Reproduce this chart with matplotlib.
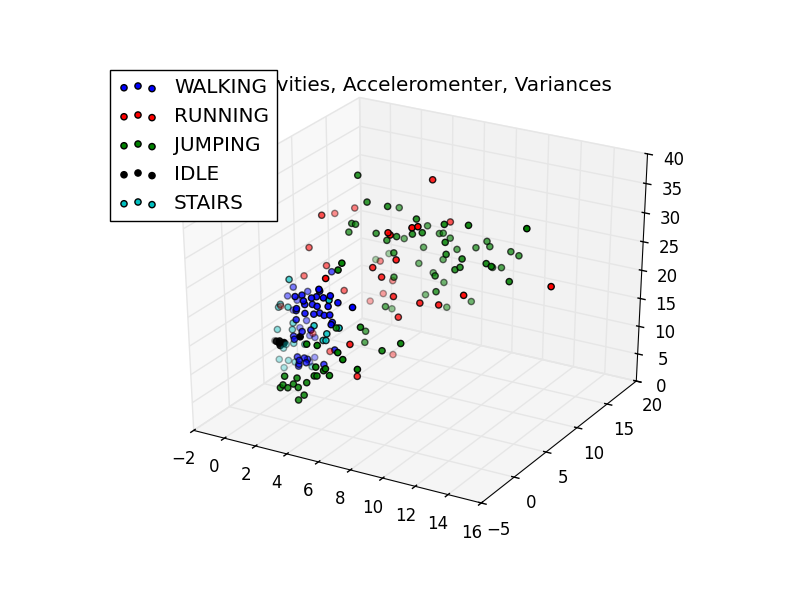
import matplotlib
matplotlib.use('Agg')
import matplotlib.pyplot as plt
from mpl_toolkits.mplot3d import Axes3D  # noqa

plt.style.use('classic')

# variances of the three accelerometer axes, per activity
walk_x = [3.98, 4.16, 2.47, 2.77, 3.13, 3.55, 3.73, 4.34, 4.64, 2.77, 3.07, 3.37, 3.98, 4.58,
          5.06, 6.14, 2.47, 3.25, 3.67, 3.86, 4.28, 4.76, 2.41, 4.82, 2.95, 3.37, 2.17, 4.88,
          2.35, 4.94, 2.47, 2.77, 3.07, 2.65, 4.28, 2.95, 2.53, 3.25,
          2.53, 0.22, 1.01, -0.21, 0.22, 0.09, 1.07, 0.40, 1.50, 1.07, 1.07, 1.50]
walk_y = [0.2, -0.3, 0.1, 0.4, -0.2, 0.0, 0.3, -0.1, 0.2, -0.4, 0.1, 0.5, -0.2, 0.0,
          0.3, -0.1, 0.2, -0.3, 0.0, 0.4, 0.1, -0.2, 0.3, 0.0, -0.1, 0.2, 0.4, -0.3,
          0.1, 0.0, 0.2, -0.2, 0.3, 0.0, -0.1, 0.1, 0.2, -0.3,
          5.2, 4.8, 5.1, 4.9, 5.3, 5.0, 4.7, 5.2, 4.9, 5.1, 5.0, 4.8]
walk_z = [24.2, 25.0, 22.4, 22.6, 22.3, 22.9, 23.0, 23.5, 23.8, 20.9, 21.4, 21.3, 21.9, 22.1,
          22.8, 23.0, 19.9, 20.3, 20.2, 20.2, 20.3, 20.9, 18.2, 19.5, 16.8, 17.1, 15.1, 19.4,
          14.9, 14.8, 11.8, 11.7, 11.7, 10.8, 11.9, 12.0, 10.2, 11.7,
          22.8, 19.0, 18.5, 17.1, 16.3, 14.7, 13.7, 11.6, 10.8, 10.7, 6.0, 7.3]

run_x = [6.84, 0.86, -0.44, 0.94, 0.08, 7.65, 8.01, 6.93, 6.18, 6.31, 2.47, 6.67, 5.21, 5.76,
         3.27, 2.65, 6.49, 8.13, 9.29, 10.81, 15.08, 1.79, 6.79, 5.90, 4.32, 6.33, 2.41, 2.29,
         1.18, -0.29, -1.88, 4.46, 0.20]
run_y = [10.0, 12.5, 12.5, 7.5, 7.5, 5.0, 5.0, 12.5, 5.0, 5.0, 12.5, 5.0, 5.0, 5.0,
         12.5, 12.5, 5.0, 5.0, 5.0, 5.0, 7.5, 12.5, 5.0, 0.0, 10.0, 0.0, 5.0, 7.5,
         7.5, 7.5, 7.5, 0.0, 7.5]
run_z = [37.5, 27.5, 25.8, 29.9, 23.8, 33.5, 33.9, 28.6, 31.8, 31.5, 19.1, 27.5, 25.3, 24.0,
         16.1, 13.4, 21.1, 21.0, 21.4, 24.0, 26.2, 11.5, 17.7, 16.4, 5.4, 11.1, 8.8, 17.6,
         21.3, 18.6, 12.2, 26.8, 8.6]

jump_x = [3.43, 3.26, 3.73, 4.09, 4.39, 4.75, 4.39, 3.55, 4.33, 4.93, 5.41, 5.58, 6.36, 5.52,
          6.12, 6.00, 7.20, 6.90, 8.09, 5.64, 4.99,
          5.06, 6.57, 9.04, 7.89, 5.48, 5.24, 4.72, 4.66,
          3.26, 3.82, 5.10, 2.84, 3.08, 2.65, 4.37, 5.04, 5.65, 6.88, 7.24, 6.63, 8.59, 10.06,
          8.65, 13.55, 11.16, 11.47, 12.57, 5.47, 8.71, 9.69, 9.26, 9.57, 8.04, 5.47, 8.10, 4.92,
          3.71, 4.02, 5.50, 6.25, 6.49, 6.93, 7.36, 8.54, 9.22, 9.40, 10.70, 11.20, 9.59, 10.14,
          5.25, 4.95, 6.49, 5.87, 6.55, 5.38, 6.74, 8.29, 3.21, 1.44, 0.57]
jump_y = [-4.0, -4.0, -4.0, -4.0, -4.0, -4.0, -4.0, -4.0, -4.0, -4.0, -4.0, -4.0, -4.0, -4.0,
          -4.0, -4.0, -4.0, -4.0, -4.0, -4.0, -4.0,
          0.0, 0.0, 0.0, 0.0, 0.0, 0.0, 5.0, 5.0,
          7.5, 7.5, 7.5, 7.5, 7.5, 7.5, 7.5, 7.5, 7.5, 7.5, 7.5, 7.5, 7.5, 7.5,
          7.5, 7.5, 7.5, 7.5, 7.5, 7.5, 7.5, 7.5, 7.5, 7.5, 7.5, 7.5, 7.5, 7.5,
          12.5, 12.5, 12.5, 12.5, 12.5, 12.5, 12.5, 12.5, 12.5, 12.5, 12.5, 12.5, 12.5, 12.5,
          12.5, 12.5, 12.5, 12.5, 12.5, 12.5, 12.5, 12.5, 12.5, 16.25, 16.25]
jump_z = [11.0, 10.4, 10.7, 11.6, 11.2, 10.1, 9.0, 12.6, 12.8, 12.4, 13.9, 14.0, 14.6, 15.5,
          15.6, 15.2, 17.9, 18.9, 16.8, 19.3, 19.1,
          18.7, 19.8, 18.6, 16.6, 30.0, 28.7, 13.9, 11.9,
          38.0, 33.8, 33.8, 29.6, 29.6, 28.0, 28.8, 28.0, 29.0, 32.7, 30.6, 30.0, 32.8, 33.5,
          29.8, 35.0, 27.7, 27.4, 25.5, 26.1, 27.8, 27.6, 25.5, 26.1, 23.7, 21.9, 21.0, 16.4,
          29.2, 24.0, 27.1, 26.2, 26.4, 25.8, 24.1, 25.1, 26.6, 25.8, 25.7, 25.3, 22.3, 22.6,
          23.2, 20.2, 21.8, 19.1, 17.8, 14.9, 13.5, 15.5, 11.0, 17.0, 15.4]

idle_x = [1.20, 1.33, 1.45, 1.57, 1.69, 1.39, 2.77, -1.18]
idle_y = [0.1, 0.2, 0.0, 0.3, 0.1, 0.2, 0.0, 5.0]
idle_z = [13.8, 13.5, 14.1, 13.5, 13.9, 13.1, 15.7, 8.4]

stairs_x = [1.02, 0.41, 0.29, 0.90, 3.67, 4.46, 4.22, 5.24, 0.17, 1.20, 1.14, 0.53, 1.20, 0.23,
            0.83, 0.53, 2.35, 4.64, 0.71, 1.92, 4.40, 1.26]
stairs_y = [2.5, 2.5, 2.5, 2.5, 0.0, 0.0, 0.0, 0.0, 2.5, 2.5, 2.5, 2.5, 2.5, 2.5,
            2.5, 2.5, 2.5, 0.0, 2.5, 2.5, 0.0, 2.5]
stairs_z = [22.6, 17.9, 17.3, 17.7, 18.2, 17.3, 16.0, 18.8, 13.3, 15.1, 13.9, 10.2, 11.5, 8.0,
            8.2, 6.7, 8.1, 23.2, 11.0, 11.8, 16.1, 8.2]

fig = plt.figure(figsize=(8, 6), dpi=100)
ax = fig.add_subplot(111, projection='3d')
# old mplot3d stretched the box over the whole subplot instead of a square
ax.apply_aspect = lambda position=None: None
ax.set_box_aspect((1, 1, 1.03), zoom=0.91)

ax.scatter(walk_x, walk_y, walk_z, c='b', edgecolors='k', label='WALKING')
ax.scatter(run_x, run_y, run_z, c='r', edgecolors='k', label='RUNNING')
ax.scatter(jump_x, jump_y, jump_z, c='g', edgecolors='k', label='JUMPING')
ax.scatter(idle_x, idle_y, idle_z, c='k', edgecolors='k', label='IDLE')
ax.scatter(stairs_x, stairs_y, stairs_z, c='c', edgecolors='k', label='STAIRS')

ax.set_xlim(-2, 16)
ax.set_ylim(-5, 20)
ax.set_zlim(0, 40)

ax.set_title('Activities, Acceleromenter, Variances', x=0.525)
ax.legend(loc='upper left')

fig.savefig('out.png', dpi=100)
